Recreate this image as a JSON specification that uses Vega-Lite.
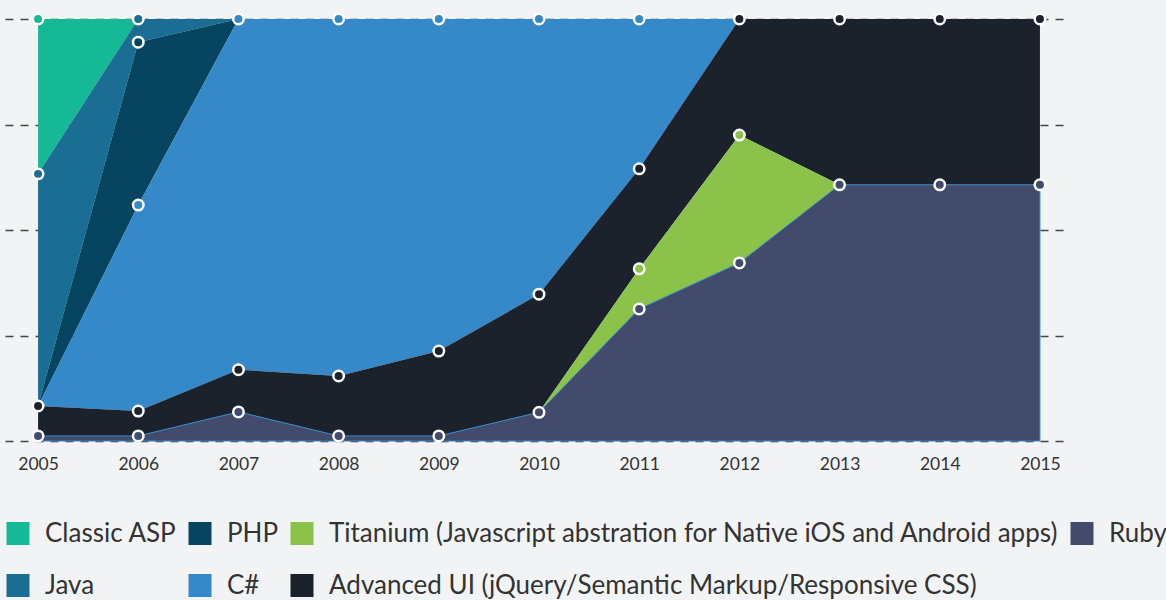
{
  "$schema": "https://vega.github.io/schema/vega-lite/v6.json",
  "width": 1065,
  "height": 422,
  "autosize": {"type": "none"},
  "padding": {"left": 5, "top": 19, "right": 96, "bottom": 159},
  "background": "#f2f3f5",
  "config": {
    "view": {"stroke": null},
    "font": "Lato",
    "legend": {"padding": 0}
  },
  "data": {
    "values": [
      {"year": 2005, "lang": "Classic ASP", "value": 36.7},
      {"year": 2005, "lang": "Java", "value": 55.0},
      {"year": 2005, "lang": "PHP", "value": 0},
      {"year": 2005, "lang": "C#", "value": 0},
      {"year": 2005, "lang": "Advanced UI (jQuery/Semantic Markup/Responsive CSS)", "value": 7.1},
      {"year": 2005, "lang": "Titanium (Javascript abstration for Native iOS and Android apps)", "value": 0},
      {"year": 2005, "lang": "Ruby", "value": 1.2},
      {"year": 2006, "lang": "Classic ASP", "value": 0},
      {"year": 2006, "lang": "Java", "value": 5.5},
      {"year": 2006, "lang": "PHP", "value": 38.6},
      {"year": 2006, "lang": "C#", "value": 48.8},
      {"year": 2006, "lang": "Advanced UI (jQuery/Semantic Markup/Responsive CSS)", "value": 5.9},
      {"year": 2006, "lang": "Titanium (Javascript abstration for Native iOS and Android apps)", "value": 0},
      {"year": 2006, "lang": "Ruby", "value": 1.2},
      {"year": 2007, "lang": "Classic ASP", "value": 0},
      {"year": 2007, "lang": "Java", "value": 0},
      {"year": 2007, "lang": "PHP", "value": 0},
      {"year": 2007, "lang": "C#", "value": 83.1},
      {"year": 2007, "lang": "Advanced UI (jQuery/Semantic Markup/Responsive CSS)", "value": 10.0},
      {"year": 2007, "lang": "Titanium (Javascript abstration for Native iOS and Android apps)", "value": 0},
      {"year": 2007, "lang": "Ruby", "value": 6.9},
      {"year": 2008, "lang": "Classic ASP", "value": 0},
      {"year": 2008, "lang": "Java", "value": 0},
      {"year": 2008, "lang": "PHP", "value": 0},
      {"year": 2008, "lang": "C#", "value": 84.6},
      {"year": 2008, "lang": "Advanced UI (jQuery/Semantic Markup/Responsive CSS)", "value": 14.2},
      {"year": 2008, "lang": "Titanium (Javascript abstration for Native iOS and Android apps)", "value": 0},
      {"year": 2008, "lang": "Ruby", "value": 1.2},
      {"year": 2009, "lang": "Classic ASP", "value": 0},
      {"year": 2009, "lang": "Java", "value": 0},
      {"year": 2009, "lang": "PHP", "value": 0},
      {"year": 2009, "lang": "C#", "value": 78.7},
      {"year": 2009, "lang": "Advanced UI (jQuery/Semantic Markup/Responsive CSS)", "value": 20.1},
      {"year": 2009, "lang": "Titanium (Javascript abstration for Native iOS and Android apps)", "value": 0},
      {"year": 2009, "lang": "Ruby", "value": 1.2},
      {"year": 2010, "lang": "Classic ASP", "value": 0},
      {"year": 2010, "lang": "Java", "value": 0},
      {"year": 2010, "lang": "PHP", "value": 0},
      {"year": 2010, "lang": "C#", "value": 65.2},
      {"year": 2010, "lang": "Advanced UI (jQuery/Semantic Markup/Responsive CSS)", "value": 28.0},
      {"year": 2010, "lang": "Titanium (Javascript abstration for Native iOS and Android apps)", "value": 0},
      {"year": 2010, "lang": "Ruby", "value": 6.8},
      {"year": 2011, "lang": "Classic ASP", "value": 0},
      {"year": 2011, "lang": "Java", "value": 0},
      {"year": 2011, "lang": "PHP", "value": 0},
      {"year": 2011, "lang": "C#", "value": 35.5},
      {"year": 2011, "lang": "Advanced UI (jQuery/Semantic Markup/Responsive CSS)", "value": 23.7},
      {"year": 2011, "lang": "Titanium (Javascript abstration for Native iOS and Android apps)", "value": 9.5},
      {"year": 2011, "lang": "Ruby", "value": 31.3},
      {"year": 2012, "lang": "Classic ASP", "value": 0},
      {"year": 2012, "lang": "Java", "value": 0},
      {"year": 2012, "lang": "PHP", "value": 0},
      {"year": 2012, "lang": "C#", "value": 0},
      {"year": 2012, "lang": "Advanced UI (jQuery/Semantic Markup/Responsive CSS)", "value": 27.5},
      {"year": 2012, "lang": "Titanium (Javascript abstration for Native iOS and Android apps)", "value": 30.3},
      {"year": 2012, "lang": "Ruby", "value": 42.2},
      {"year": 2013, "lang": "Classic ASP", "value": 0},
      {"year": 2013, "lang": "Java", "value": 0},
      {"year": 2013, "lang": "PHP", "value": 0},
      {"year": 2013, "lang": "C#", "value": 0},
      {"year": 2013, "lang": "Advanced UI (jQuery/Semantic Markup/Responsive CSS)", "value": 39.3},
      {"year": 2013, "lang": "Titanium (Javascript abstration for Native iOS and Android apps)", "value": 0},
      {"year": 2013, "lang": "Ruby", "value": 60.7},
      {"year": 2014, "lang": "Classic ASP", "value": 0},
      {"year": 2014, "lang": "Java", "value": 0},
      {"year": 2014, "lang": "PHP", "value": 0},
      {"year": 2014, "lang": "C#", "value": 0},
      {"year": 2014, "lang": "Advanced UI (jQuery/Semantic Markup/Responsive CSS)", "value": 39.3},
      {"year": 2014, "lang": "Titanium (Javascript abstration for Native iOS and Android apps)", "value": 0},
      {"year": 2014, "lang": "Ruby", "value": 60.7},
      {"year": 2015, "lang": "Classic ASP", "value": 0},
      {"year": 2015, "lang": "Java", "value": 0},
      {"year": 2015, "lang": "PHP", "value": 0},
      {"year": 2015, "lang": "C#", "value": 0},
      {"year": 2015, "lang": "Advanced UI (jQuery/Semantic Markup/Responsive CSS)", "value": 39.3},
      {"year": 2015, "lang": "Titanium (Javascript abstration for Native iOS and Android apps)", "value": 0},
      {"year": 2015, "lang": "Ruby", "value": 60.7}
    ]
  },
  "transform": [
    {"calculate": "indexof(['Ruby','Titanium (Javascript abstration for Native iOS and Android apps)','Advanced UI (jQuery/Semantic Markup/Responsive CSS)','C#','PHP','Java','Classic ASP'], datum.lang)", "as": "ord"}
  ],
  "encoding": {
    "x": {
      "field": "year", "type": "quantitative",
      "scale": {"domain": [2004.67, 2015.3], "nice": false, "zero": false},
      "axis": {
        "title": null, "values": [2005,2006,2007,2008,2009,2010,2011,2012,2013,2014,2015],
        "format": "d", "grid": false, "ticks": false, "domain": false,
        "labelFontSize": 17.5, "labelColor": "#333333", "labelPadding": 14, "labelFont": "Lato"
      }
    },
    "color": {
      "field": "lang", "type": "nominal",
      "scale": {
        "domain": ["Classic ASP", "PHP", "Titanium (Javascript abstration for Native iOS and Android apps)", "Ruby", "Java", "C#", "Advanced UI (jQuery/Semantic Markup/Responsive CSS)"],
        "range": ["#16b996", "#064460", "#8bc34a", "#424b6b", "#1a6e93", "#3589c9", "#1c222c"]
      },
      "legend": {
        "title": null, "orient": "none", "legendX": 0, "legendY": 501.5,
        "columns": 4, "direction": "horizontal",
        "symbolType": "square", "symbolSize": 529, "symbolStrokeWidth": 0, "symbolOpacity": 1,
        "labelFontSize": 26, "labelColor": "#333333", "labelFont": "Lato", "labelLimit": 0,
        "labelOffset": 14, "rowPadding": 26, "columnPadding": 10,
        "encode": {
          "symbols": {
            "update": {
              "stroke": {"signal": "datum.label === 'Ruby' ? '#3589c9' : 'transparent'"},
              "strokeWidth": {"value": 1.5}
            }
          }
        }
      }
    }
  },
  "layer": [
    {
      "mark": {"type": "area", "opacity": 1, "strokeWidth": 1},
      "encoding": {
        "y": {
          "field": "value", "type": "quantitative", "stack": "normalize",
          "scale": {"domain": [0, 1], "nice": false},
          "axis": {
            "title": null, "labels": false, "ticks": false, "domain": false,
            "grid": true, "values": [0, 0.25, 0.5, 0.75, 1],
            "gridDash": [8, 7], "gridColor": "#444444", "gridWidth": 1.5
          }
        },
        "order": {"field": "ord", "type": "quantitative"},
        "stroke": {"condition": {"test": "datum.lang === 'Ruby'", "value": "#3589c9"}, "value": "transparent"}
      }
    },
    {
      "transform": [
        {"stack": "value", "groupby": ["year"], "sort": [{"field": "ord", "order": "ascending"}], "offset": "normalize", "as": ["v0", "v1"]},
        {"filter": "datum.value > 0"}
      ],
      "mark": {"type": "point", "filled": true, "shape": "circle", "size": 110, "stroke": "white", "strokeWidth": 2.5, "opacity": 1, "strokeOpacity": 1},
      "encoding": {
        "y": {"field": "v1", "type": "quantitative"}
      }
    }
  ]
}
